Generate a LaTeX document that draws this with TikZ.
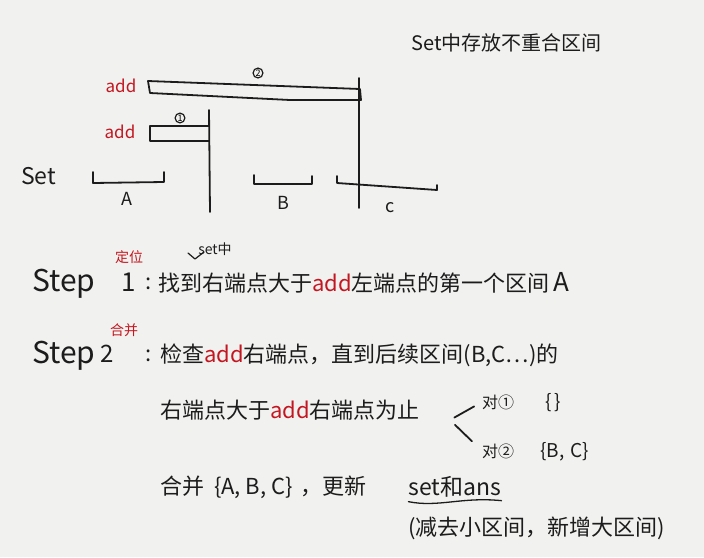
\documentclass[tikz,border=0pt]{standalone}
\usepackage{fontspec}
\setmainfont{Noto Sans CJK SC}
\usetikzlibrary{positioning}
\definecolor{PaperGray}{RGB}{241, 241, 239}
\definecolor{PenRed}{RGB}{196, 22, 32}
\definecolor{PenBlack}{RGB}{28, 28, 28}

\tikzset{
  pen/.style={PenBlack, line width=1.8pt, line cap=round, line join=round},
  hand/.style={inner sep=0pt, anchor=west, text=PenBlack, font=\fontsize{22}{24}\selectfont},
  small/.style={inner sep=0pt, text=PenBlack, font=\fontsize{18}{20}\selectfont},
  redtxt/.style={text=PenRed},
  num/.style={draw=PenBlack, circle, line width=1.2pt, inner sep=0.6pt, font=\fontsize{9}{10}\selectfont}
}

\begin{document}
\begin{tikzpicture}[x=1pt, y=-1pt]
  \fill[PaperGray] (0,0) rectangle (704,557);
  \useasboundingbox (0,0) rectangle (704,557);

  % Title
  \node[hand, font=\fontsize{20}{22}\selectfont] (title) at (411,43) {Set中存放不重合区间};

  % Intervals already in the set
  \begin{scope}
    \node[hand, font=\fontsize{23}{25}\selectfont] (setlbl) at (21,176) {Set};
    \draw[pen] (93,172) -- (93,183) -- (164,182) -- (164,172);
    \draw[pen] (254,175) -- (254,184) -- (312,184) -- (312,176);
    \draw[pen] (337,176) -- (337,183) -- (437,190) -- (437,185);
    \node[small] (A) at (127,199) {A};
    \node[small] (B) at (283,203) {B};
    \node[small] (C) at (390,208) {c};
  \end{scope}

  % New intervals to add
  \begin{scope}
    \node[small, redtxt, font=\fontsize{17}{19}\selectfont] (add2) at (121,86) {add};
    \node[small, redtxt, font=\fontsize{17}{19}\selectfont] (add1) at (120,132) {add};
    \draw[pen] (148,81) -- (360,89) -- (361,100) -- (290,100) -- (150,93) -- cycle;
    \draw[pen] (209,126) -- (150,126) -- (150,141) -- (209,141);
    \draw[pen] (209,110) -- (210,212);
    \draw[pen] (359,78) -- (359,208);
    \node[num] (n2) at (258,73) {2};
    \node[num] (n1) at (180,118) {1};
  \end{scope}

  % Step 1
  \node[hand, font=\fontsize{30}{32}\selectfont] (step1) at (32,284) {Step};
  \node[hand, font=\fontsize{26}{28}\selectfont] (one) at (121,282) {1};
  \node[small, redtxt, font=\fontsize{14}{16}\selectfont] (locate) at (129,257) {定位};
  \node[small, font=\fontsize{22}{24}\selectfont] (colon1) at (149,284) {:};
  \node[hand] (find) at (158,283) {找到右端点大于{\color{PenRed}add}左端点的第一个区间\,{\fontsize{26}{28}\selectfont A}};
  \node[small, font=\fontsize{14}{16}\selectfont] (inset) at (215,249) {set中};
  \draw[pen, line width=1.2pt] (188,253) -- (195,259) -- (204,252);

  % Step 2
  \node[hand, font=\fontsize{30}{32}\selectfont] (step2) at (32,356) {Step};
  \node[hand, font=\fontsize{24}{26}\selectfont] (two) at (100,354) {2};
  \node[small, redtxt, font=\fontsize{14}{16}\selectfont] (merge) at (124,330) {合并};
  \node[small, font=\fontsize{22}{24}\selectfont] (colon2) at (149,356) {:};
  \node[hand] (check) at (160,355) {检查{\color{PenRed}add}右端点，直到后续区间(B,C…)的};
  \node[hand] (until) at (160,410) {右端点大于{\color{PenRed}add}右端点为止};

  % two cases
  \coordinate (fork) at (450,420);
  \node[hand, font=\fontsize{16}{18}\selectfont] (case1) at (482,402) {对①};
  \node[hand, font=\fontsize{16}{18}\selectfont] (case2) at (482,451) {对②};
  \node[hand, font=\fontsize{19}{21}\selectfont] (empty) at (545,403) {\{\,\}};
  \node[hand, font=\fontsize{19}{21}\selectfont] (bc) at (540,452) {\{B,\,\,C\}};
  \draw[pen, shorten <=5pt, shorten >=9pt] (fork) -- (case1.west);
  \draw[pen, shorten <=7pt, shorten >=14pt] (fork) -- (case2.west);

  % Result
  \node[hand] (mergeall) at (160,487) {合并\ \ \{A,\ B,\ C\}\,\,，更新};
  \node[hand, font=\fontsize{23}{25}\selectfont, right=42pt of mergeall] (update) {set和ans};
  \draw[pen, line width=1.3pt] ([yshift=-4pt]update.south west) .. controls +(30,6) and +(-40,-4) .. ([yshift=-3pt]update.south east);
  \node[hand] (note) at (408,528) {(减去小区间，新增大区间)};
\end{tikzpicture}
\end{document}
